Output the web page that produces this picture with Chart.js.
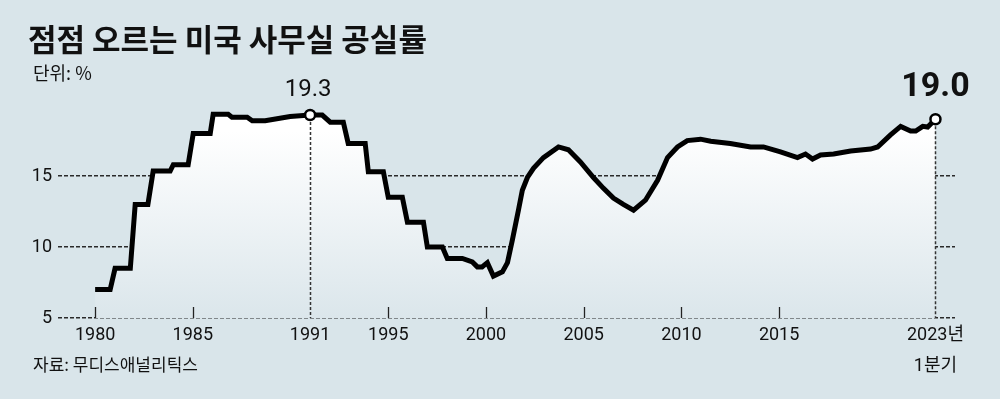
<!DOCTYPE html>
<html>
<head>
<meta charset="utf-8">
<script src="https://cdn.jsdelivr.net/npm/chart.js@4.4.0/dist/chart.umd.min.js"></script>
<style>
html, body { margin: 0; padding: 0; background: #d9e5ea; }
#wrap { position: relative; width: 1000px; height: 399px; overflow: hidden; }
#chart { position: absolute; left: 0; top: 0; }
.txt { position: absolute; font-family: 'Noto Sans CJK KR', sans-serif; color: #111; white-space: nowrap; }
#title { left: 28px; top: 19px; font-size: 31px; font-weight: 700; line-height: 38px; }
#unit { left: 33px; top: 61px; font-size: 18px; line-height: 22px; }
#source { left: 33px; top: 354px; font-size: 17px; line-height: 20px; }
</style>
</head>
<body>
<div id="wrap">
  <canvas id="chart" width="1000" height="399"></canvas>
  <div class="txt" id="title">점점 오르는 미국 사무실 공실률</div>
  <div class="txt" id="unit">단위: %</div>
  <div class="txt" id="source">자료: 무디스애널리틱스</div>
</div>
<script>
// 미국 사무실 공실률 (%), 그림에서 읽은 값
var years = [
  1980.0, 1980.77, 1981.02, 1981.8, 1982.05, 1982.7, 1982.97, 1983.84, 1984.0, 1984.76,
  1985.02, 1985.89, 1986.04, 1986.81, 1987.0, 1987.78, 1988.04, 1988.7, 1989.98, 1991.0,
  1991.62, 1992.03, 1992.7, 1992.95, 1993.82, 1993.98, 1994.75, 1995.0, 1995.72, 1995.98,
  1996.8, 1997.0, 1997.77, 1998.02, 1998.79, 1999.3, 1999.56, 1999.8, 2000.07, 2000.38,
  2000.84, 2001.1, 2001.35, 2001.66, 2001.86, 2002.12, 2002.43, 2002.94, 2003.71, 2004.22,
  2004.83, 2005.5, 2006.0, 2006.52, 2007.03, 2007.55, 2008.16, 2008.78, 2009.29, 2009.8,
  2010.3, 2010.98, 2011.5, 2012.5, 2013.54, 2014.2, 2015.07, 2015.94, 2016.35, 2016.71,
  2017.12, 2017.79, 2018.66, 2019.68, 2020.04, 2020.7, 2021.22, 2021.73, 2021.99, 2022.35,
  2022.6, 2023.0
];
var rates = [
  7.0, 7.0, 8.5, 8.5, 13.0, 13.0, 15.35, 15.35, 15.8, 15.8,
  18.0, 18.0, 19.35, 19.35, 19.15, 19.15, 18.9, 18.9, 19.2, 19.3,
  19.3, 18.8, 18.8, 17.3, 17.3, 15.3, 15.3, 13.5, 13.5, 11.75,
  11.75, 10.0, 10.0, 9.2, 9.2, 8.95, 8.6, 8.6, 8.9, 7.95,
  8.25, 8.9, 10.5, 12.6, 14.0, 14.9, 15.55, 16.3, 17.05, 16.85,
  16.0, 14.9, 14.15, 13.45, 13.0, 12.6, 13.3, 14.7, 16.3, 17.05,
  17.5, 17.6, 17.45, 17.3, 17.05, 17.05, 16.7, 16.3, 16.55, 16.2,
  16.48, 16.55, 16.76, 16.9, 17.05, 17.9, 18.5, 18.17, 18.17, 18.5,
  18.45, 19.0
];
var xTicks = [1980, 1985, 1991, 1995, 2000, 2005, 2010, 2015, 2023];
var yTicks = [5, 10, 15];
var markedYears = [1991, 2023];
var markedLabels = ['19.3', '19.0'];

var markedIdx = markedYears.map(function(y) { return years.indexOf(y); });
var numFont = 'Roboto, "Noto Sans CJK KR", sans-serif';

var overlay = {
  id: 'overlay',
  afterDatasetsDraw: function(chart) {
    var c = chart.ctx, xs = chart.scales.x, ys = chart.scales.y;
    var bottom = chart.chartArea.bottom;
    c.save();
    // 눈금
    c.strokeStyle = '#222';
    c.lineWidth = 1.3;
    xTicks.forEach(function(v) {
      if (markedYears.indexOf(v) >= 0) return;
      var px = Math.round(xs.getPixelForValue(v)) + 0.5;
      c.beginPath();
      c.moveTo(px, bottom);
      c.lineTo(px, bottom - 11);
      c.stroke();
    });
    // 점선 세로선
    c.setLineDash([3, 2]);
    c.strokeStyle = '#333';
    c.lineWidth = 1.5;
    markedIdx.forEach(function(i) {
      var px = Math.round(xs.getPixelForValue(years[i])) + 0.5;
      var py = ys.getPixelForValue(rates[i]);
      c.beginPath();
      c.moveTo(px, py + 7);
      c.lineTo(px, bottom);
      c.stroke();
    });
    c.restore();
  },
  afterDraw: function(chart) {
    var c = chart.ctx, xs = chart.scales.x, ys = chart.scales.y;
    c.save();
    c.fillStyle = '#111';
    c.textAlign = 'center';
    c.textBaseline = 'middle';
    markedIdx.forEach(function(i, k) {
      var px = xs.getPixelForValue(years[i]);
      var py = ys.getPixelForValue(rates[i]);
      if (k === 0) {
        c.font = '24px ' + numFont;
        c.fillText(markedLabels[k], px - 2, py - 25);
      } else {
        c.font = 'bold 34px ' + numFont;
        c.fillText(markedLabels[k], px, py - 32);
      }
    });
    c.restore();
  }
};

new Chart(document.getElementById('chart'), {
  type: 'line',
  data: {
    datasets: [{
      data: years.map(function(y, i) { return { x: y, y: rates[i] }; }),
      borderColor: '#000',
      borderWidth: 5,
      borderJoinStyle: 'miter',
      tension: 0,
      fill: 'start',
      clip: false,
      backgroundColor: function(ctx) {
        var area = ctx.chart.chartArea;
        if (!area) return 'rgba(255,255,255,0)';
        var g = ctx.chart.ctx.createLinearGradient(0, area.top, 0, area.bottom);
        g.addColorStop(0, '#ffffff');
        g.addColorStop(0.15, '#ffffff');
        g.addColorStop(1, '#dbe6eb');
        return g;
      },
      pointRadius: function(ctx) { return markedIdx.indexOf(ctx.dataIndex) >= 0 ? 5 : 0; },
      pointBackgroundColor: '#fff',
      pointBorderColor: '#000',
      pointBorderWidth: 2.5
    }]
  },
  options: {
    responsive: false,
    animation: false,
    events: [],
    layout: { padding: { top: 98, right: 45, left: 0, bottom: 0 } },
    plugins: { legend: { display: false }, tooltip: { enabled: false } },
    scales: {
      x: {
        type: 'linear',
        min: 1978.1,
        max: 2024.0,
        grid: { display: false, drawTicks: false },
        border: { display: false },
        afterBuildTicks: function(s) { s.ticks = xTicks.map(function(v) { return { value: v }; }); },
        afterFit: function(s) { s.height = 81; },
        ticks: {
          padding: 2,
          autoSkip: false,
          maxRotation: 0,
          color: '#111',
          font: { family: numFont, size: 18, lineHeight: '31px' },
          callback: function(v) { return v === 2023 ? ['2023년', '1분기'] : String(v); }
        }
      },
      y: {
        min: 5,
        max: 20.5,
        z: 1,
        afterBuildTicks: function(s) { s.ticks = yTicks.map(function(v) { return { value: v }; }); },
        afterFit: function(s) { s.width = 58; },
        grid: { color: '#2a2a2a', lineWidth: 1.4, drawTicks: false },
        border: { display: false, dash: [4, 2] },
        ticks: {
          padding: 6,
          color: '#111',
          font: { family: numFont, size: 18 }
        }
      }
    }
  },
  plugins: [overlay]
});
</script>
</body>
</html>
